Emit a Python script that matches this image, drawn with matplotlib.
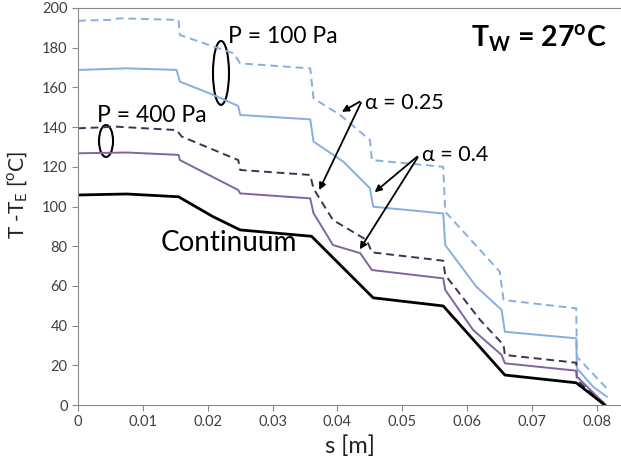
import matplotlib
matplotlib.use("Agg")
import matplotlib.pyplot as plt
from matplotlib.patches import Ellipse

plt.rcParams['font.family'] = ['Lato', 'DejaVu Sans']

# continuum
s_cont = [0.0, 0.0075, 0.0155, 0.0208, 0.025, 0.036, 0.0455, 0.0563, 0.0658, 0.0768, 0.0812]
T_cont = [105.8, 106.3, 104.9, 94.9, 88.2, 85.0, 54.0, 49.9, 15.1, 11.2, 0.0]

# P = 400 Pa, alpha = 0.4
s_p400_a04 = [0.0, 0.0075, 0.0155, 0.0157, 0.0247, 0.025, 0.0358, 0.0363, 0.0393, 0.0435,
              0.0453, 0.0563, 0.0566, 0.0609, 0.0653, 0.0658, 0.0768, 0.0769, 0.0812]
T_p400_a04 = [126.8, 127.2, 126.0, 123.4, 108.3, 106.6, 104.1, 96.7, 80.6, 76.5,
              68.0, 63.8, 58.0, 37.8, 25.2, 21.0, 17.3, 14.3, 0.5]

# P = 400 Pa, alpha = 0.25
s_p400_a025 = [0.0, 0.006, 0.0152, 0.016, 0.0247, 0.025, 0.0358, 0.0363, 0.0393, 0.0445,
               0.0453, 0.0563, 0.0566, 0.062, 0.0656, 0.0658, 0.0768, 0.0769, 0.0812]
T_p400_a025 = [139.4, 140.2, 138.5, 135.2, 123.4, 118.4, 115.9, 109.0, 93.2, 83.1,
               76.9, 72.7, 65.5, 42.8, 30.2, 25.2, 21.3, 12.6, 0.5]

# P = 100 Pa, alpha = 0.4
s_p100_a04 = [0.0, 0.0075, 0.0152, 0.0157, 0.0209, 0.0247, 0.025, 0.0358, 0.0363, 0.0409,
              0.045, 0.0455, 0.0563, 0.0566, 0.0614, 0.0653, 0.0658, 0.0768, 0.0769,
              0.0794, 0.0815]
T_p100_a04 = [168.8, 169.6, 168.8, 162.9, 156.2, 150.6, 146.1, 143.9, 132.7, 122.6,
              109.2, 99.9, 96.5, 80.6, 59.6, 47.9, 36.9, 33.6, 18.5,
              9.2, 4.2]

# P = 100 Pa, alpha = 0.25
s_p100_a025 = [0.0, 0.0049, 0.0065, 0.0155, 0.0157, 0.024, 0.025, 0.0358, 0.0363, 0.0404,
               0.045, 0.0453, 0.0563, 0.0566, 0.065, 0.0656, 0.0768, 0.0769, 0.0815]
T_p100_a025 = [193.6, 194.0, 194.8, 194.0, 186.4, 177.1, 172.1, 169.6, 154.5, 146.1,
               133.5, 123.4, 120.0, 97.4, 67.2, 52.9, 48.7, 24.3, 8.4]

x_ticks = [0, 0.01, 0.02, 0.03, 0.04, 0.05, 0.06, 0.07, 0.08]
x_labels = ['0', '0.01', '0.02', '0.03', '0.04', '0.05', '0.06', '0.07', '0.08']
y_ticks = [0, 20, 40, 60, 80, 100, 120, 140, 160, 180, 200]

light_blue = '#86aee0'
purple = '#8064a2'
dark_purple = '#403152'

fig = plt.figure(figsize=(6.21, 4.65), dpi=100)
ax = fig.add_axes([0.1256, 0.129, 0.8744, 0.8538])

ax.plot(s_p100_a025, T_p100_a025, color=light_blue, lw=1.4, ls=(0, (4, 2.5)))
ax.plot(s_p100_a04, T_p100_a04, color=light_blue, lw=1.4)
ax.plot(s_p400_a025, T_p400_a025, color=dark_purple, lw=1.4, ls=(0, (4, 2.5)))
ax.plot(s_p400_a04, T_p400_a04, color=purple, lw=1.4)
ax.plot(s_cont, T_cont, color='black', lw=2)

ax.set_xlim(0, 0.0837)
ax.set_ylim(0, 200)
ax.set_xticks(x_ticks)
ax.set_xticklabels(x_labels)
ax.set_yticks(y_ticks)
ax.tick_params(labelsize=10.5, colors='#888888', labelcolor='#404040', length=4)
for sp in ['left', 'bottom', 'top']:
    ax.spines[sp].set_color('#888888')
ax.spines['right'].set_visible(False)

ax.set_xlabel('s [m]', fontsize=17, color='#222222', labelpad=4)
ax.set_ylabel(r'T -T$_\mathregular{E}$ [$^\mathregular{o}$C]', fontsize=15, color='#222222')
ax.yaxis.set_label_coords(-0.088, 0.53)

# ellipses
ax.add_patch(Ellipse((0.02204, 167.3), 0.00247, 32.2, fill=False, ec='black', lw=1.5))
ax.add_patch(Ellipse((0.00432, 133.0), 0.00216, 16.1, fill=False, ec='black', lw=1.5))

ax.text(0.0231, 185.5, 'P = 100 Pa', fontsize=16.5, va='center', ha='left')
ax.text(0.0029, 146.0, 'P = 400 Pa', fontsize=16.5, va='center', ha='left')
ax.text(0.0128, 81.5, 'Continuum', fontsize=20, va='center', ha='left')
ax.text(0.0606, 185.0, r'T$_\mathregular{W}$ = 27$^\mathregular{o}$C', fontsize=20.5,
        fontweight='bold', va='center', ha='left')

ap = dict(arrowstyle='-|>', color='black', lw=1.3, mutation_scale=10)
ax.text(0.0442, 152.0, 'α = 0.25', fontsize=15.5, va='center', ha='left')
ax.annotate('', xy=(0.0403, 147.0), xytext=(0.0438, 153.5), arrowprops=ap)
ax.annotate('', xy=(0.0370, 107.0), xytext=(0.0438, 153.5), arrowprops=ap)

ax.text(0.0530, 126.0, 'α = 0.4', fontsize=15.5, va='center', ha='left')
ax.annotate('', xy=(0.0454, 106.3), xytext=(0.0526, 126.0), arrowprops=ap)
ax.annotate('', xy=(0.0432, 77.2), xytext=(0.0526, 126.0), arrowprops=ap)

fig.savefig('out.png', dpi=100)
